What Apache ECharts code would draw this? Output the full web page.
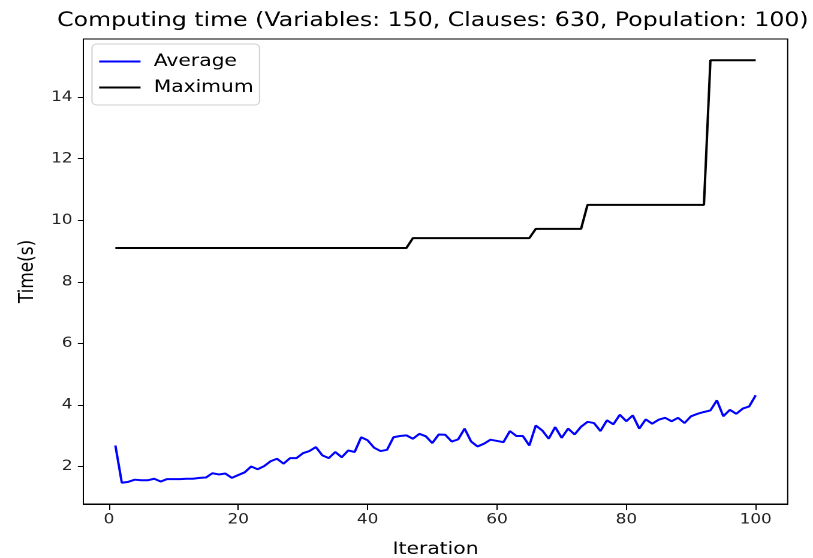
<!DOCTYPE html>
<html>
<head>
<meta charset="utf-8">
<script src="https://cdn.jsdelivr.net/npm/echarts@6/dist/echarts.min.js"></script>
<style>
html,body{margin:0;padding:0;background:#fff;overflow:hidden;width:813px;height:558px;}
#c{width:678px;height:558px;transform:scale(1.1991,1);transform-origin:0 0;}
</style>
</head>
<body>
<div id="c"></div>
<script>
const iterations = [1,2,3,4,5,6,7,8,9,10,11,12,13,14,15,16,17,18,19,20,21,22,23,24,25,26,27,28,29,30,31,32,33,34,35,36,37,38,39,40,41,42,43,44,45,46,47,48,49,50,51,52,53,54,55,56,57,58,59,60,61,62,63,64,65,66,67,68,69,70,71,72,73,74,75,76,77,78,79,80,81,82,83,84,85,86,87,88,89,90,91,92,93,94,95,96,97,98,99,100];
const averageTime = [2.68,1.47,1.50,1.57,1.55,1.55,1.60,1.51,1.59,1.59,1.59,1.60,1.60,1.63,1.64,1.78,1.74,1.77,1.63,1.72,1.81,2.00,1.91,2.01,2.17,2.25,2.09,2.27,2.27,2.43,2.50,2.63,2.36,2.27,2.47,2.30,2.52,2.47,2.95,2.85,2.61,2.50,2.54,2.95,2.99,3.01,2.90,3.06,2.98,2.76,3.04,3.03,2.81,2.88,3.23,2.81,2.65,2.74,2.87,2.83,2.79,3.15,2.99,2.99,2.68,3.33,3.17,2.90,3.28,2.93,3.23,3.04,3.29,3.45,3.41,3.15,3.50,3.37,3.68,3.47,3.66,3.23,3.53,3.39,3.52,3.58,3.47,3.58,3.41,3.63,3.71,3.77,3.82,4.15,3.63,3.84,3.71,3.88,3.95,4.31];
const maximumTime = [9.1,9.1,9.1,9.1,9.1,9.1,9.1,9.1,9.1,9.1,9.1,9.1,9.1,9.1,9.1,9.1,9.1,9.1,9.1,9.1,9.1,9.1,9.1,9.1,9.1,9.1,9.1,9.1,9.1,9.1,9.1,9.1,9.1,9.1,9.1,9.1,9.1,9.1,9.1,9.1,9.1,9.1,9.1,9.1,9.1,9.1,
  9.42,9.42,9.42,9.42,9.42,9.42,9.42,9.42,9.42,9.42,9.42,9.42,9.42,9.42,9.42,9.42,9.42,9.42,9.42,
  9.72,9.72,9.72,9.72,9.72,9.72,9.72,9.72,
  10.5,10.5,10.5,10.5,10.5,10.5,10.5,10.5,10.5,10.5,10.5,10.5,10.5,10.5,10.5,10.5,10.5,10.5,10.5,
  15.2,15.2,15.2,15.2,15.2,15.2,15.2,15.2];
const xTicks = [0,20,40,60,80,100];
const yTicks = [2,4,6,8,10,12,14];
const titleText = 'Computing time (Variables: 150, Clauses: 630, Population: 100)';

const font = 'DejaVu Sans';
const chart = echarts.init(document.getElementById('c'), null, {renderer: 'canvas', devicePixelRatio: 2});
chart.setOption({
  animation: false,
  backgroundColor: '#fff',
  title: {
    text: titleText, left: 356, top: 6, textAlign: 'center',
    textStyle: {fontFamily: font, fontSize: 19.7, fontWeight: 'normal', color: '#000'}
  },
  legend: {
    orient: 'vertical', left: 76.7, top: 44,
    itemWidth: 34.5, itemHeight: 2, itemGap: 9,
    padding: [9, 5, 9, 6],
    backgroundColor: '#fff', borderColor: '#d0d0d0', borderWidth: 1, borderRadius: 4,
    icon: 'rect',
    textStyle: {fontFamily: font, fontSize: 16.9, lineHeight: 17, color: '#000', padding: [0, 0, 0, 6]},
    data: ['Average', 'Maximum']
  },
  grid: {left: 69.5, right: 21.1, top: 39, bottom: 54, show: true, borderColor: '#000', borderWidth: 1,
         containLabel: false, outerBoundsMode: 'none'},
  xAxis: {
    type: 'value', min: -3.95, max: 104.95,
    name: 'Iteration', nameLocation: 'middle', nameGap: 37,
    nameTextStyle: {fontFamily: font, fontSize: 16.9, color: '#000'},
    axisLine: {show: true, onZero: false, lineStyle: {color: '#000', width: 1}},
    axisTick: {show: true, length: 6, lineStyle: {color: '#000'}, customValues: xTicks},
    axisLabel: {fontFamily: font, fontSize: 14.1, color: '#222', margin: 9, customValues: xTicks},
    splitLine: {show: false}
  },
  yAxis: {
    type: 'value', min: 0.78, max: 15.89,
    name: 'Time(s)', nameLocation: 'middle', nameGap: 38, nameRotate: 90,
    nameTextStyle: {fontFamily: font, fontSize: 16.9, color: '#000'},
    axisLine: {show: true, onZero: false, lineStyle: {color: '#000', width: 1}},
    axisTick: {show: true, length: 4.6, lineStyle: {color: '#000'}, customValues: yTicks},
    axisLabel: {fontFamily: font, fontSize: 14.1, color: '#222', margin: 9, customValues: yTicks},
    splitLine: {show: false}
  },
  series: [
    {name: 'Average', type: 'line', showSymbol: false, symbol: 'none', color: '#0000ff',
     lineStyle: {color: '#0000ff', width: 2}, data: iterations.map((x, i) => [x, averageTime[i]])},
    {name: 'Maximum', type: 'line', showSymbol: false, symbol: 'none', color: '#000',
     lineStyle: {color: '#000', width: 2}, data: iterations.map((x, i) => [x, maximumTime[i]])}
  ]
});
</script>
</body>
</html>
